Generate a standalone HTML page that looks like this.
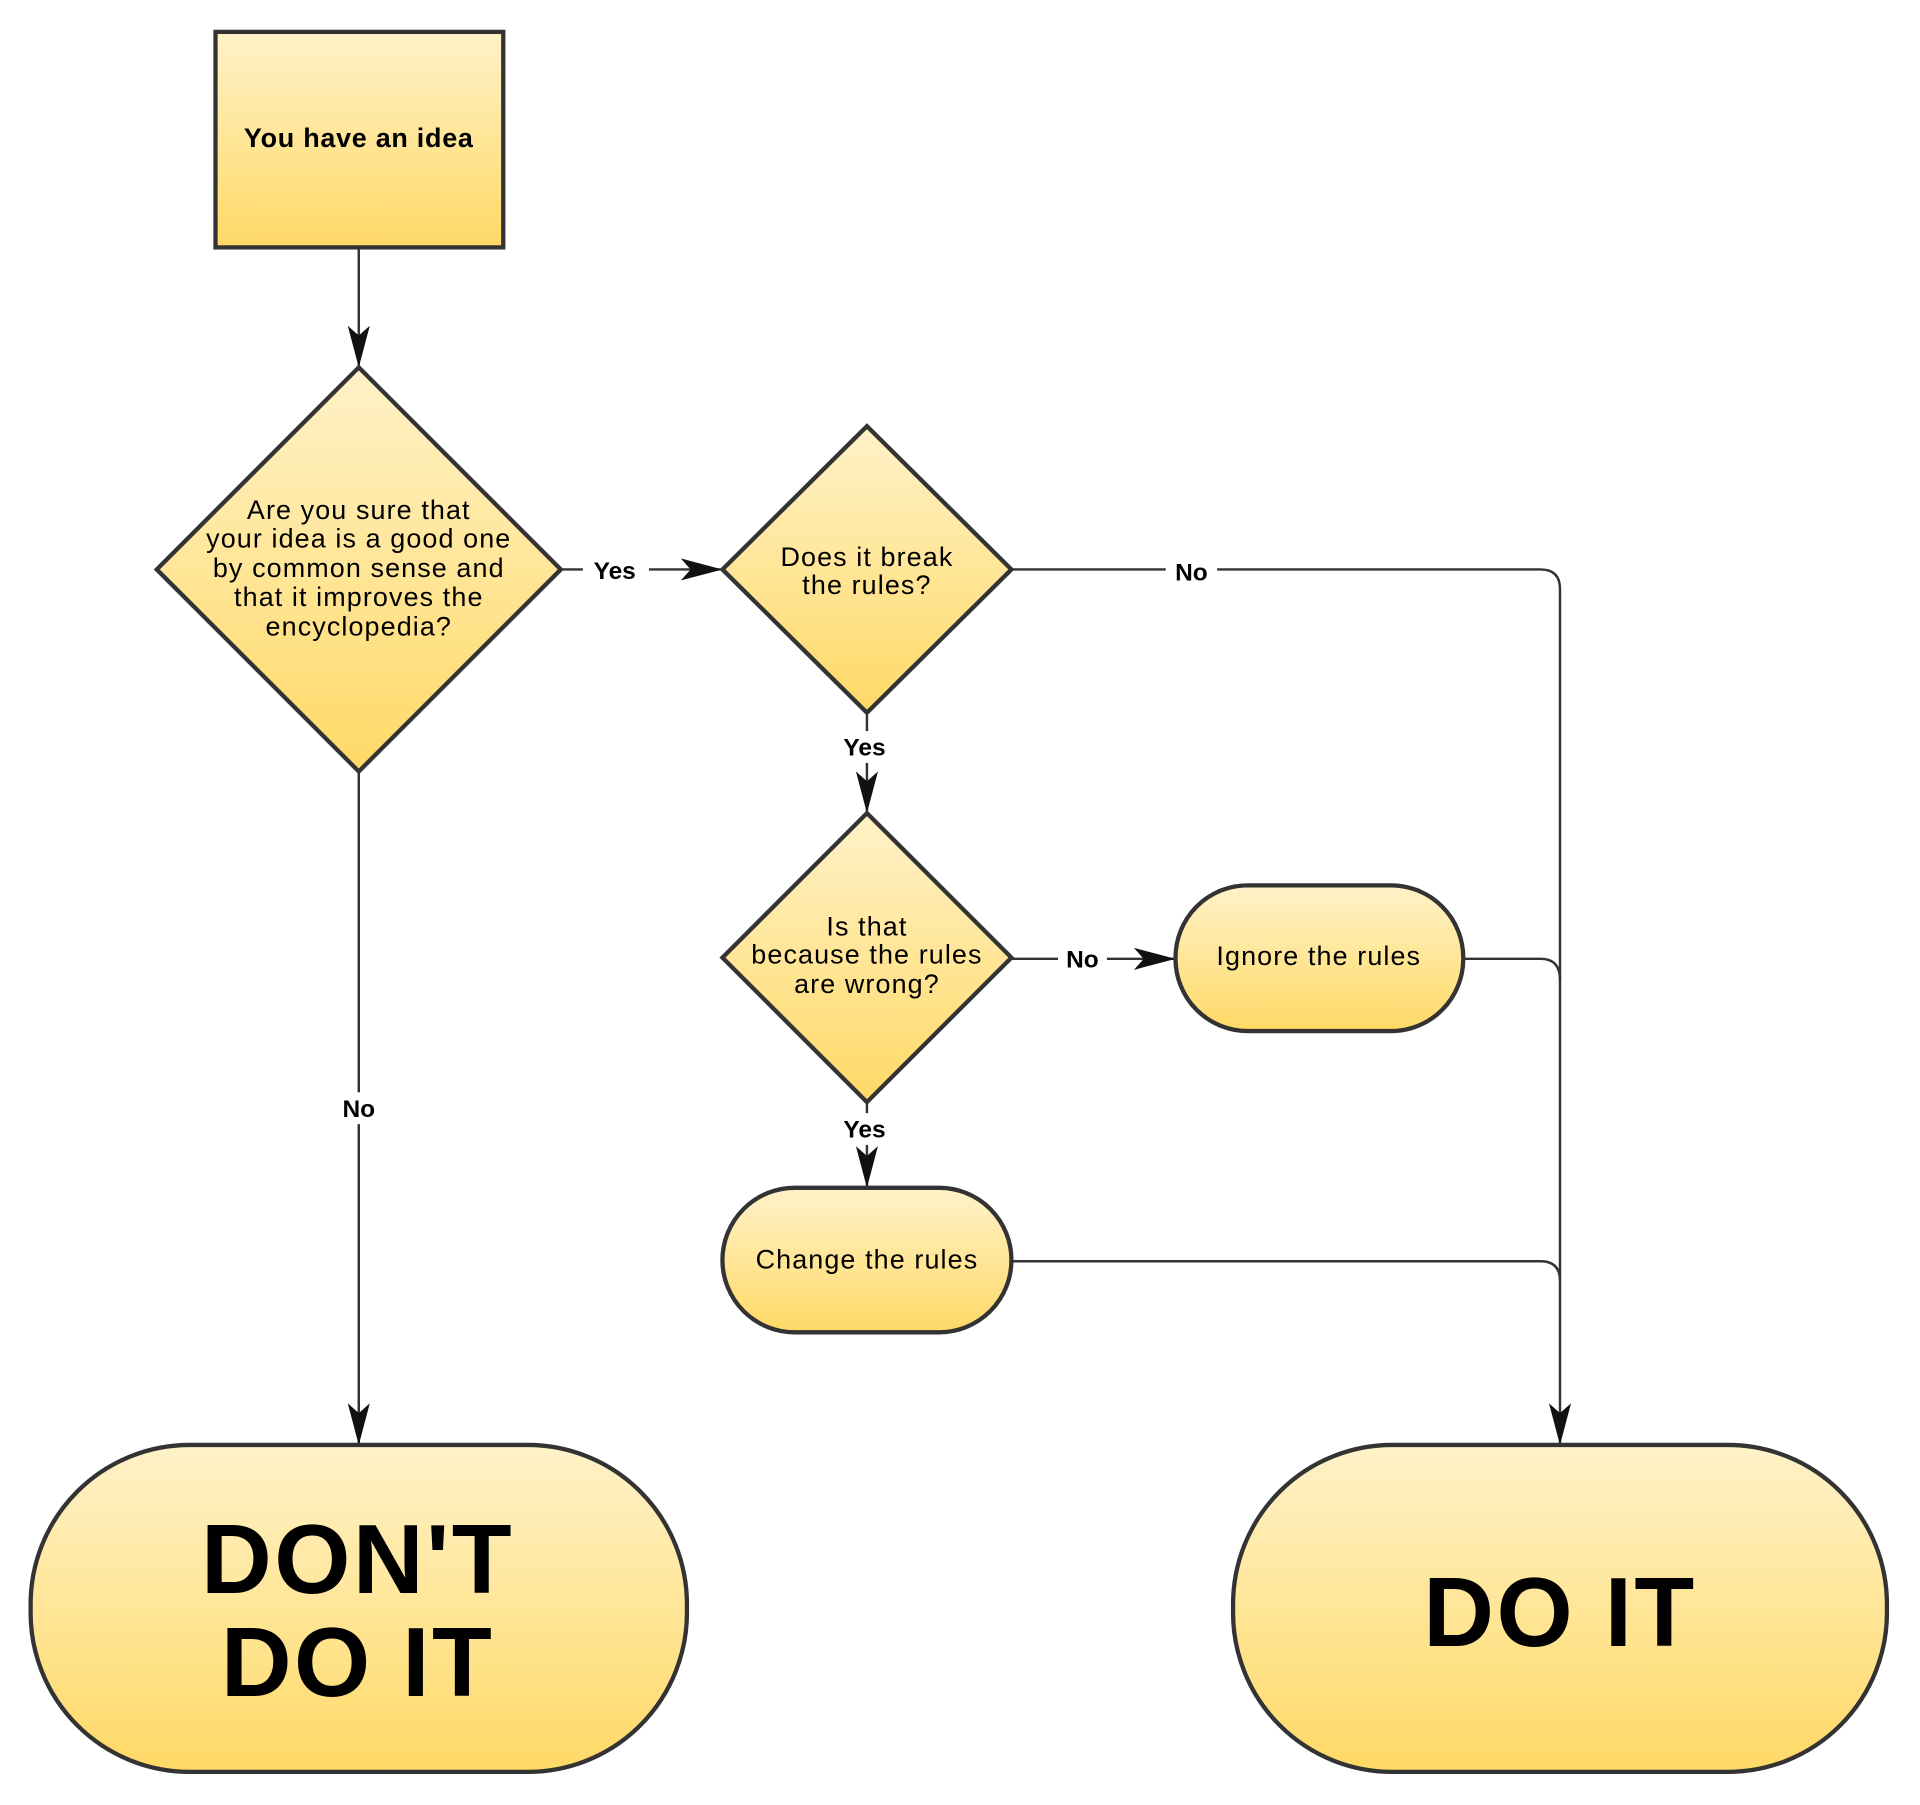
<!DOCTYPE html>
<html><head><meta charset="utf-8"><style>html,body{margin:0;padding:0;background:#fff}svg{display:block}</style></head>
<body>
<svg width="1920" height="1805" viewBox="0 0 1568 1474" xmlns="http://www.w3.org/2000/svg" font-family="Liberation Sans, sans-serif">
<defs>
<linearGradient id="g" x1="0" y1="0" x2="0" y2="1"><stop offset="0" stop-color="#fff2c9"/><stop offset="1" stop-color="#ffd966"/></linearGradient>
<marker id="b" markerWidth="34" markerHeight="18" refX="33" refY="9" orient="auto" markerUnits="userSpaceOnUse"><path d="M0,0 L34,9 L0,18 L8,9 Z" fill="#111"/></marker>
</defs>
<g fill="none" stroke="#333" stroke-width="2">
<line x1="293" y1="202" x2="293" y2="299" marker-end="url(#b)"/>
<line x1="458" y1="465" x2="589" y2="465" marker-end="url(#b)"/>
<path d="M826,465 H1258 Q1274,465 1274,481 V1179" marker-end="url(#b)"/>
<line x1="708" y1="582" x2="708" y2="663" marker-end="url(#b)"/>
<line x1="826" y1="783" x2="959" y2="783" marker-end="url(#b)"/>
<path d="M1195,783 H1258 Q1274,783 1274,800"/>
<line x1="708" y1="900" x2="708" y2="969" marker-end="url(#b)"/>
<path d="M826,1030 H1258 Q1274,1030 1274,1046"/>
<line x1="293" y1="630" x2="293" y2="1179" marker-end="url(#b)"/>
</g>
<g fill="url(#g)" stroke="#333" stroke-width="3.5">
<rect x="176" y="26" width="235" height="176"/>
<polygon points="293,300 458,465 293,630 128,465"/>
<polygon points="708,348 826,465 708,582 590,465"/>
<polygon points="708,664 826,782 708,900 590,782"/>
<rect x="960" y="723" width="235" height="119" rx="59"/>
<rect x="590" y="970" width="236" height="118" rx="59"/>
<rect x="25" y="1180" width="536" height="267" rx="130"/>
<rect x="1007" y="1180" width="534" height="267" rx="130"/>
</g>
<g fill="#fff"><rect x="476" y="452" width="54" height="26"/><rect x="952" y="453" width="42" height="26"/><rect x="680" y="597" width="54" height="26"/><rect x="864" y="770" width="40" height="26"/><rect x="680" y="909" width="54" height="26"/><rect x="274" y="892" width="40" height="26"/></g>
<g font-size="20" text-anchor="middle" fill="#000">
<g font-size="22" letter-spacing="0.9">
<text x="293" y="120" font-weight="bold" letter-spacing="0.6">You have an idea</text>
<text x="293" y="424">Are you sure that</text>
<text x="293" y="447">your idea is a good one</text>
<text x="293" y="471">by common sense and</text>
<text x="293" y="495">that it improves the</text>
<text x="293" y="519">encyclopedia?</text>
<text x="708" y="462">Does it break</text>
<text x="708" y="485">the rules?</text>
<text x="708" y="764">Is that</text>
<text x="708" y="787">because the rules</text>
<text x="708" y="811">are wrong?</text>
<text x="1077" y="788">Ignore the rules</text>
<text x="708" y="1036">Change the rules</text>
</g>
<g font-weight="bold">
<text x="502" y="473">Yes</text><text x="973" y="474">No</text><text x="706" y="617">Yes</text>
<text x="884" y="790">No</text><text x="706" y="929">Yes</text><text x="293" y="912">No</text>
</g>
<g font-weight="bold" font-size="80" letter-spacing="2">
<text x="292" y="1301">DON'T</text><text x="292" y="1385">DO IT</text>
<text x="1274" y="1344">DO IT</text>
</g>
</g>
</svg>
</body></html>
